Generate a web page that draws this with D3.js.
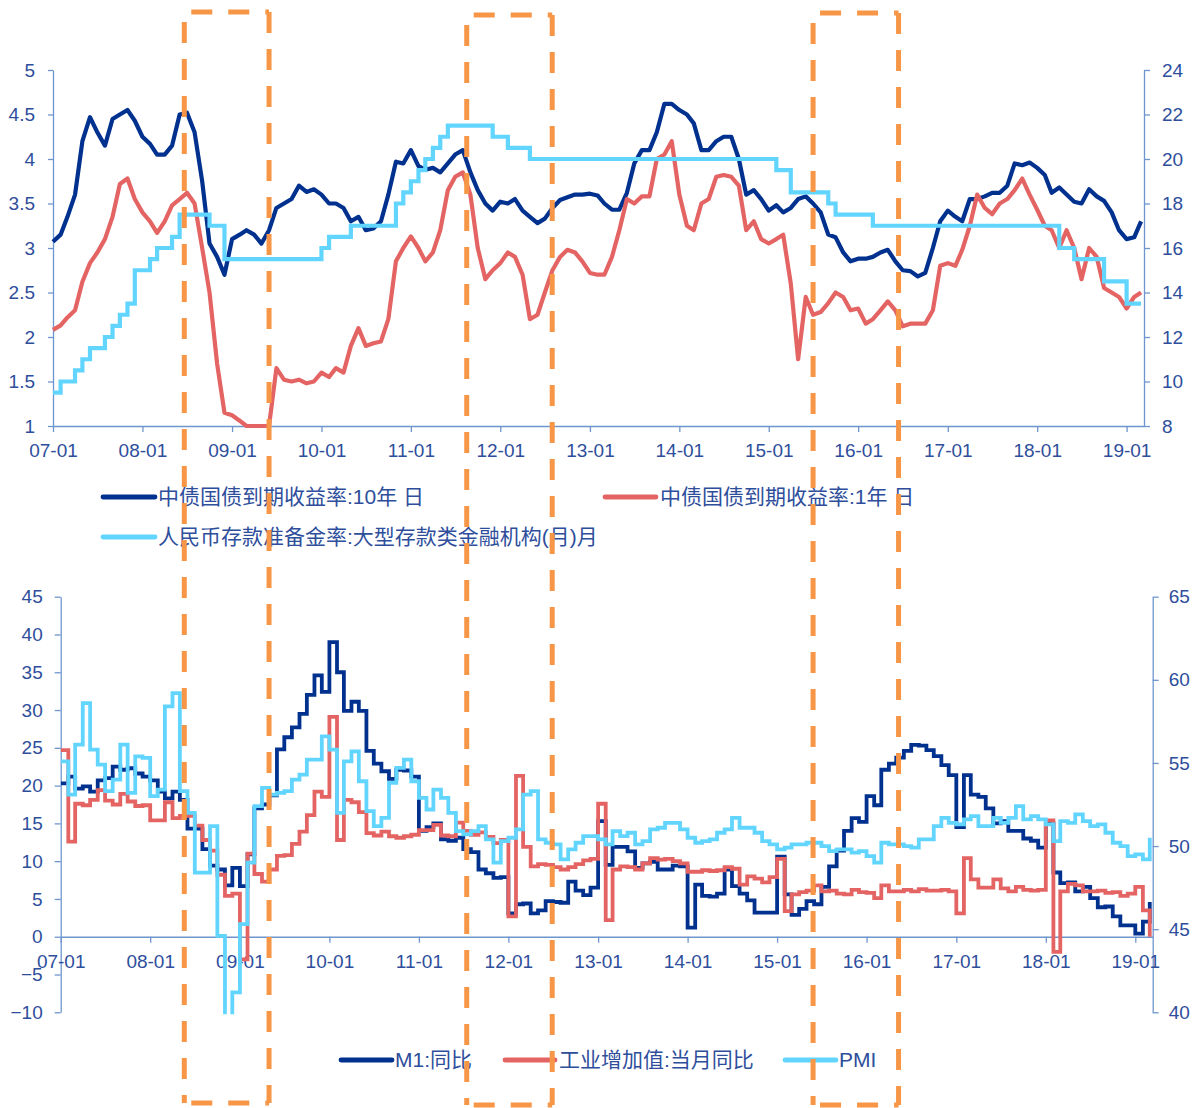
<!DOCTYPE html>
<html><head><meta charset="utf-8">
<script src="https://cdn.jsdelivr.net/npm/d3@7"></script>
<style>body{margin:0;background:#fff} svg{display:block}</style>
</head><body>
<svg id="chart" width="1202" height="1108"></svg>
<script>
// ---------- DATA (monthly, 2007-01 .. 2019-03) ----------
const startMonth = new Date(2007, 0, 1);
const endMonth = new Date(2019, 3, 1);
const months = d3.timeMonth.range(startMonth, endMonth); // 147 months

const yearTicks = ["07-01","08-01","09-01","10-01","11-01","12-01","13-01","14-01","15-01","16-01","17-01","18-01","19-01"];

// 中债国债到期收益率:10年
const yield10y = [
  3.07, 3.15, 3.35, 3.6, 4.2, 4.47, 4.3, 4.15, 4.45, 4.5, 4.55, 4.43,
  4.25, 4.17, 4.05, 4.05, 4.15, 4.5, 4.52, 4.3, 3.75, 3.05, 2.9, 2.7,
  3.1, 3.15, 3.2, 3.15, 3.05, 3.2, 3.45, 3.5, 3.55, 3.7, 3.63, 3.66,
  3.6, 3.5, 3.5, 3.45, 3.3, 3.35, 3.2, 3.22, 3.3, 3.6, 3.97, 3.95,
  4.1, 3.92, 3.88, 3.9, 3.85, 3.95, 4.05, 4.1, 3.85, 3.65, 3.5, 3.42,
  3.52, 3.5, 3.55, 3.42, 3.35, 3.28, 3.33, 3.45, 3.54, 3.57, 3.6, 3.6,
  3.61, 3.59, 3.5, 3.43, 3.43, 3.62, 3.95, 4.1, 4.1, 4.3, 4.62, 4.62,
  4.55, 4.5, 4.4, 4.1, 4.1, 4.2, 4.25, 4.25, 4.0, 3.6, 3.65, 3.55,
  3.42, 3.48, 3.4, 3.45, 3.55, 3.58, 3.5, 3.4, 3.15, 3.12, 2.95, 2.85,
  2.88, 2.88, 2.9, 2.95, 2.98, 2.85, 2.75, 2.74, 2.68, 2.72, 3.0, 3.3,
  3.42, 3.35, 3.3, 3.55, 3.55, 3.58, 3.62, 3.62, 3.7, 3.95, 3.93, 3.96,
  3.9, 3.82, 3.62, 3.68, 3.6, 3.52, 3.5, 3.66, 3.58, 3.53, 3.4, 3.2,
  3.1, 3.12, 3.3
];
// 中债国债到期收益率:1年
const yield1y = [
  2.08, 2.13, 2.22, 2.3, 2.62, 2.83, 2.95, 3.1, 3.35, 3.72, 3.78, 3.55,
  3.4, 3.3, 3.17, 3.3, 3.48, 3.55, 3.62, 3.5, 3.0, 2.5, 1.7, 1.15,
  1.12, 1.06, 1.0, 1.0, 1.0, 1.0, 1.65, 1.52, 1.5, 1.52, 1.48, 1.5,
  1.6, 1.55, 1.65, 1.6, 1.9, 2.1, 1.9, 1.93, 1.95, 2.2, 2.85, 3.0,
  3.13, 3.0, 2.85, 2.95, 3.2, 3.65, 3.8, 3.85, 3.6, 3.0, 2.65, 2.75,
  2.83, 2.95, 2.9, 2.7, 2.2, 2.25, 2.5, 2.75, 2.9, 2.98, 2.95, 2.85,
  2.72, 2.7, 2.7, 2.9, 3.2, 3.55, 3.5, 3.58, 3.58, 4.0, 4.05, 4.2,
  3.6, 3.25, 3.2, 3.5, 3.55, 3.8, 3.82, 3.8, 3.7, 3.2, 3.3, 3.1,
  3.05, 3.1, 3.15, 2.6, 1.75, 2.45, 2.25, 2.28, 2.38, 2.5, 2.45, 2.3,
  2.32, 2.15, 2.2, 2.3, 2.4, 2.3, 2.12, 2.15, 2.15, 2.15, 2.3, 2.8,
  2.83, 2.8, 2.98, 3.25, 3.6, 3.45, 3.38, 3.5, 3.55, 3.65, 3.78, 3.6,
  3.43, 3.25, 3.2, 3.0, 3.2, 3.0, 2.65, 3.0, 2.9, 2.55, 2.5, 2.45,
  2.32, 2.45, 2.5
];
// 人民币存款准备金率:大型存款类金融机构
const rrr = [
  9.5, 10, 10, 10.5, 11, 11.5, 11.5, 12, 12.5, 13, 13.5, 15,
  15, 15.5, 16, 16, 16.5, 17.5, 17.5, 17.5, 17.5, 17, 17, 15.5,
  15.5, 15.5, 15.5, 15.5, 15.5, 15.5, 15.5, 15.5, 15.5, 15.5, 15.5, 15.5,
  16, 16.5, 16.5, 16.5, 17, 17, 17, 17, 17, 17, 18, 18.5,
  19, 19.5, 20, 20.5, 21, 21.5, 21.5, 21.5, 21.5, 21.5, 21.5, 21,
  21, 20.5, 20.5, 20.5, 20, 20, 20, 20, 20, 20, 20, 20,
  20, 20, 20, 20, 20, 20, 20, 20, 20, 20, 20, 20,
  20, 20, 20, 20, 20, 20, 20, 20, 20, 20, 20, 20,
  20, 19.5, 19.5, 18.5, 18.5, 18.5, 18.5, 18.5, 18, 17.5, 17.5, 17.5,
  17.5, 17.5, 17, 17, 17, 17, 17, 17, 17, 17, 17, 17,
  17, 17, 17, 17, 17, 17, 17, 17, 17, 17, 17, 17,
  17, 17, 17, 16, 16, 15.5, 15.5, 15.5, 15.5, 14.5, 14.5, 14.5,
  13.5, 13.5, 13.5
];
// M1:同比
const m1 = [
  20.3, 21.2, 19.6, 19.9, 19.2, 20.7, 21.0, 22.5, 22.1, 22.3, 21.6, 21.2,
  20.7, 19.2, 18.3, 19.2, 18.1, 14.3, 14.3, 11.6, 9.4, 8.9, 6.8, 9.1,
  6.7, 10.9, 17.0, 17.5, 18.7, 24.8, 26.4, 27.7, 29.5, 32.0, 34.6, 32.4,
  39.0, 35.0, 29.9, 31.1, 29.9, 24.6, 22.9, 21.9, 20.9, 22.1, 22.0, 21.2,
  14.0, 14.5, 15.0, 12.9, 12.7, 13.1, 11.6, 11.2, 8.9, 8.4, 7.8, 7.9,
  3.1, 4.3, 4.4, 3.1, 3.5, 4.7, 4.6, 4.5, 7.3, 6.1, 5.5, 6.5,
  15.3, 9.5, 11.9, 11.9, 11.3, 9.1, 9.7, 9.9, 8.9, 8.9, 9.4, 9.3,
  1.2, 6.9, 5.4, 5.3, 5.7, 8.9, 6.7, 5.7, 4.8, 3.2, 3.2, 3.2,
  10.6, 5.6, 2.9, 3.7, 4.7, 4.3, 6.6, 9.3, 11.4, 14.0, 15.7, 15.2,
  18.6, 17.4, 22.1, 22.9, 23.7, 24.6, 25.4, 25.3, 24.7, 23.9, 22.7, 21.4,
  14.5, 21.4, 18.8, 18.5, 17.0, 15.0, 15.3, 14.0, 14.0, 13.0, 12.7, 11.8,
  15.0, 8.5, 7.1, 7.2, 6.0, 6.6, 5.1, 3.9, 4.0, 2.7, 1.5, 1.5,
  0.4, 2.0, 4.6
];
// 工业增加值:当月同比
const ip = [
  24.7, 12.6, 17.6, 17.4, 18.1, 19.4, 18.0, 17.5, 18.9, 17.9, 17.3, 17.4,
  15.4, 15.4, 17.8, 15.7, 16.0, 16.0, 14.7, 12.8, 11.4, 8.2, 5.4, 5.7,
  -3.0, 11.0, 8.3, 7.3, 8.9, 10.7, 10.8, 12.3, 13.9, 16.1, 19.2, 18.5,
  29.1, 12.8, 18.1, 17.8, 16.5, 13.7, 13.4, 13.9, 13.3, 13.1, 13.3, 13.5,
  14.1, 14.1, 14.8, 13.4, 13.3, 15.1, 14.0, 13.5, 13.8, 13.2, 12.4, 12.8,
  2.7, 21.3, 11.9, 9.3, 9.6, 9.5, 9.2, 8.9, 9.2, 9.6, 10.1, 10.3,
  17.6, 2.2, 8.9, 9.3, 9.2, 8.9, 9.7, 10.4, 10.2, 10.3, 10.0, 9.7,
  8.6, 8.6, 8.8, 8.7, 8.8, 9.2, 9.0, 6.9, 8.0, 7.7, 7.2, 7.9,
  10.3, 3.4, 5.6, 5.9, 6.1, 6.8, 6.0, 6.1, 5.7, 5.6, 6.2, 5.9,
  5.8, 5.1, 6.8, 6.0, 6.0, 6.2, 6.0, 6.3, 6.1, 6.1, 6.2, 6.0,
  3.1, 10.4, 7.6, 6.5, 6.5, 7.6, 6.4, 6.0, 6.6, 6.2, 6.1, 6.2,
  15.4, -2.0, 6.0, 7.0, 6.8, 6.0, 6.0, 6.1, 5.8, 5.9, 5.4, 5.7,
  6.6, 3.5, 0.0
];
// PMI
const pmi = [
  55.1, 53.1, 56.1, 58.6, 55.8, 54.9, 53.3, 54.0, 56.1, 53.2, 55.4, 55.3,
  53.0, 53.4, 58.4, 59.2, 53.3, 52.0, 48.4, 48.4, 51.2, 44.6, 38.8, 41.2,
  45.3, 49.0, 52.4, 53.5, 53.1, 53.2, 53.3, 54.0, 54.3, 55.2, 55.2, 56.6,
  55.8, 52.0, 55.1, 55.7, 53.9, 52.1, 51.2, 51.7, 53.8, 54.7, 55.2, 53.9,
  52.9, 52.2, 53.4, 52.9, 52.0, 50.9, 50.7, 50.9, 51.2, 50.4, 49.0, 50.3,
  50.5, 51.0, 53.1, 53.3, 50.4, 50.2, 50.1, 49.2, 49.8, 50.2, 50.6, 50.6,
  50.4, 50.1, 50.9, 50.6, 50.8, 50.1, 50.3, 51.0, 51.1, 51.4, 51.4, 51.0,
  50.5, 50.2, 50.3, 50.4, 50.8, 51.0, 51.7, 51.1, 51.1, 50.8, 50.3, 50.1,
  49.8, 49.9, 50.1, 50.1, 50.2, 50.2, 50.0, 49.7, 49.8, 49.8, 49.6, 49.7,
  49.4, 49.0, 50.2, 50.1, 50.1, 50.0, 49.9, 50.4, 50.4, 51.2, 51.7, 51.4,
  51.3, 51.6, 51.8, 51.2, 51.2, 51.7, 51.4, 51.7, 52.4, 51.6, 51.8, 51.6,
  51.3, 50.3, 51.5, 51.4, 51.9, 51.5, 51.2, 51.3, 50.8, 50.2, 50.0, 49.4,
  49.5, 49.2, 50.5
];

const topLeftTicks = [1, 1.5, 2, 2.5, 3, 3.5, 4, 4.5, 5];
const topRightTicks = [8, 10, 12, 14, 16, 18, 20, 22, 24];
const botLeftTicks = [-10, -5, 0, 5, 10, 15, 20, 25, 30, 35, 40, 45];
const botRightTicks = [40, 45, 50, 55, 60, 65];

// highlighted periods (orange dashed boxes)
const boxStart = ["2008-06-20", "2011-08-17", "2015-07-01"];
const boxEnd   = ["2009-06-01", "2012-07-31", "2016-06-14"];

const topLegend = ["中债国债到期收益率:10年 日", "中债国债到期收益率:1年 日", "人民币存款准备金率:大型存款类金融机构(月)月"];
const botLegend = ["M1:同比", "工业增加值:当月同比", "PMI"];

// ---------- STYLE / LAYOUT ----------
const C = { navy: "#00318F", red: "#E46464", sky: "#62D5FF", axis: "#6E96CE", text: "#2E4E9C", orange: "#F79646" };
const FONT = "'Liberation Sans', Arial, 'Noto Sans CJK SC', sans-serif";
const svg = d3.select("#chart");
svg.append("rect").attr("width", 1202).attr("height", 1108).attr("fill", "#fff");

const xDomain = [new Date(2007, 0, 1), new Date(2019, 2, 13)];
const xT = d3.scaleTime().domain(xDomain).range([53, 1144]);
const yTL = d3.scaleLinear().domain([1, 5]).range([426, 70]);
const yTR = d3.scaleLinear().domain([8, 24]).range([426, 70]);
const xB = d3.scaleTime().domain(xDomain).range([60.7, 1152.7]);
const yBL = d3.scaleLinear().domain([-10, 45]).range([1012.3, 596.7]);
const yBR = d3.scaleLinear().domain([40, 65]).range([1012.3, 596.7]);

const yearDates = yearTicks.map(s => d3.timeParse("%y-%m")(s));
const fmtTick = d3.timeFormat("%y-%m");

function styleAxis(g) {
  g.attr("font-size", null).attr("font-family", null);
  g.select(".domain").attr("stroke", C.axis).attr("stroke-width", 1.3);
  g.selectAll(".tick line").attr("stroke", C.axis).attr("stroke-width", 1.3);
  g.selectAll(".tick text").attr("fill", C.text).style("font-size", "19px").style("font-family", FONT);
}

// ---- top axes
svg.append("g").attr("transform", "translate(53,0)")
  .call(d3.axisLeft(yTL).tickValues(topLeftTicks).tickSize(5).tickPadding(13).tickSizeOuter(0).tickFormat(d3.format("~g")))
  .call(styleAxis);
svg.append("g").attr("transform", "translate(1144,0)")
  .call(d3.axisRight(yTR).tickValues(topRightTicks).tickSize(6).tickPadding(12).tickSizeOuter(0))
  .call(styleAxis);
svg.append("g").attr("transform", "translate(0,426)")
  .call(d3.axisBottom(xT).tickValues(yearDates).tickFormat(fmtTick).tickSize(6).tickPadding(12).tickSizeOuter(0))
  .call(styleAxis);

// ---- bottom axes
svg.append("g").attr("transform", "translate(60.7,0)")
  .call(d3.axisLeft(yBL).tickValues(botLeftTicks).tickSize(6).tickPadding(12).tickSizeOuter(0))
  .call(styleAxis);
svg.append("g").attr("transform", "translate(1152.7,0)")
  .call(d3.axisRight(yBR).tickValues(botRightTicks).tickSize(6).tickPadding(10).tickSizeOuter(0))
  .call(styleAxis);
svg.append("g").attr("transform", `translate(0,${yBL(0)})`)
  .call(d3.axisBottom(xB).tickValues(yearDates).tickFormat(fmtTick).tickSize(6).tickPadding(12).tickSizeOuter(0))
  .call(styleAxis);

// ---- top lines
const lineTL = d3.line().x((d, i) => xT(months[i])).y(d => yTL(d)).curve(d3.curveLinear);
const lineTR = d3.line().x((d, i) => xT(months[i])).y(d => yTR(d)).curve(d3.curveStepAfter);
svg.append("path").datum(yield10y).attr("d", lineTL).attr("fill", "none").attr("stroke", C.navy).attr("stroke-width", 4.2).attr("stroke-linejoin", "round");
svg.append("path").datum(yield1y).attr("d", lineTL).attr("fill", "none").attr("stroke", C.red).attr("stroke-width", 4.2).attr("stroke-linejoin", "round");
svg.append("path").datum(rrr).attr("d", lineTR).attr("fill", "none").attr("stroke", C.sky).attr("stroke-width", 4.2);

// ---- bottom lines (clipped)
svg.append("clipPath").attr("id", "botClip").append("rect")
  .attr("x", 60.7).attr("y", 594).attr("width", 1092).attr("height", 1012.3 - 594 + 2);
const gB = svg.append("g").attr("clip-path", "url(#botClip)");
const lineBL = d3.line().x((d, i) => xB(months[i])).y(d => yBL(d)).curve(d3.curveStepAfter);
const lineBR = d3.line().x((d, i) => xB(months[i])).y(d => yBR(d)).curve(d3.curveStepAfter);
gB.append("path").datum(m1).attr("d", lineBL).attr("fill", "none").attr("stroke", C.navy).attr("stroke-width", 3.8);
gB.append("path").datum(ip).attr("d", lineBL).attr("fill", "none").attr("stroke", C.red).attr("stroke-width", 3.8);
gB.append("path").datum(pmi).attr("d", lineBR).attr("fill", "none").attr("stroke", C.sky).attr("stroke-width", 3.8);

// ---- legends
function legendItem(x1, x2, tx, y, color, label) {
  svg.append("line").attr("x1", x1).attr("x2", x2).attr("y1", y).attr("y2", y)
    .attr("stroke", color).attr("stroke-width", 4.8).attr("stroke-linecap", "round");
  svg.append("text").attr("x", tx).attr("y", y).attr("dy", "0.35em")
    .attr("fill", C.text).style("font-size", "21px").style("font-family", FONT).text(label);
}
legendItem(103, 155, 158, 497, C.navy, topLegend[0]);
legendItem(605, 656, 660, 497, C.red, topLegend[1]);
legendItem(103, 155, 158, 537, C.sky, topLegend[2]);
legendItem(341, 392, 395, 1060, C.navy, botLegend[0]);
legendItem(505, 555, 559, 1060, C.red, botLegend[1]);
legendItem(785, 836, 839, 1060, C.sky, botLegend[2]);

// ---- orange dashed boxes
const boxTop = [12, 15, 13], boxBottom = [1103, 1105, 1105];
const parseD = d3.timeParse("%Y-%m-%d");
boxStart.forEach((s, i) => {
  const x0 = xT(parseD(s)), x1 = xT(parseD(boxEnd[i]));
  const y0 = boxTop[i], y1 = boxBottom[i];
  const segs = [[x0, y0, x1, y0, 30], [x0, y1, x1, y1, 30], [x0, y0, x0, y1, 27], [x1, y0, x1, y1, 0]];
  segs.forEach(sg => {
    svg.append("line").attr("x1", sg[0]).attr("y1", sg[1]).attr("x2", sg[2]).attr("y2", sg[3])
      .attr("stroke", C.orange).attr("stroke-width", 5)
      .attr("stroke-dasharray", "21 16").attr("stroke-dashoffset", sg[4]);
  });
});
</script>
</body></html>
